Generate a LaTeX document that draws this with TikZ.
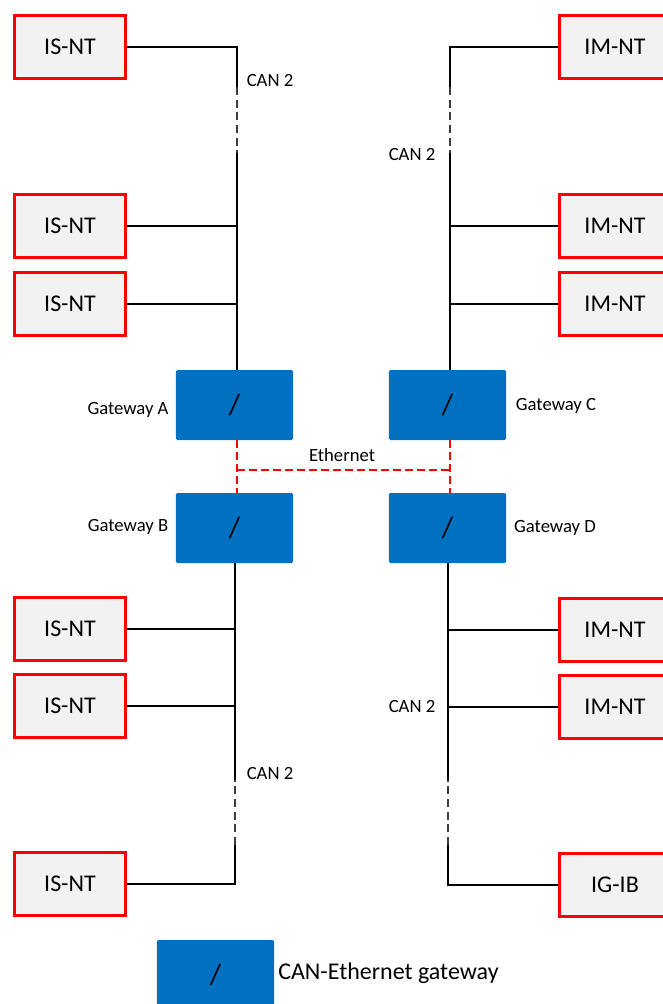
\documentclass[tikz,border=0pt]{standalone}
\usepackage{fontspec}
\setmainfont{Carlito}
\usepackage{tikz}
\definecolor{gwblue}{RGB}{0,112,192}
\definecolor{boxgray}{RGB}{242,242,242}
\definecolor{dashgray}{RGB}{60,60,60}

\begin{document}
\begin{tikzpicture}[x=0.75pt,y=-0.75pt,
  device/.style={draw=red,line width=2.2pt,fill=boxgray,minimum width=83pt,minimum height=47pt,font=\fontsize{18}{20}\selectfont},
  gateway/.style={fill=gwblue,rounded corners=1.2pt,minimum width=88pt,minimum height=52.5pt,font=\fontsize{22}{24}\selectfont},
  lbl/.style={font=\fontsize{14}{16}\selectfont},
  bus/.style={line width=1.5pt},
  gapline/.style={line width=1.1pt,dashgray,dash pattern=on 6pt off 3.5pt},
  eth/.style={red,line width=0.8pt,dash pattern=on 6pt off 3pt}]
\useasboundingbox (0,0) rectangle (663,1004);

% devices
\foreach \n/\y in {1/47,2/226,3/304,4/629,5/706,6/884}
  \node[device] (is\n) at (70,\y) {IS-NT};
\foreach \n/\y in {1/47,2/226,3/304,4/630,5/707}
  \node[device] (im\n) at (615,\y) {IM-NT};
\node[device] (ig) at (615,885) {IG-IB};

% gateways
\node[gateway] (gA) at (234.5,405) {/};
\node[gateway] (gC) at (447.5,405) {/};
\node[gateway] (gB) at (234.5,528) {/};
\node[gateway] (gD) at (447.5,528) {/};

% bus points
\coordinate (tl) at (237,47);  \coordinate (tl1) at (237,87);  \coordinate (tl2) at (237,153);
\coordinate (tr) at (450,47);  \coordinate (tr1) at (450,87);  \coordinate (tr2) at (450,153);
\coordinate (bl) at (235,884); \coordinate (bl1) at (235,780); \coordinate (bl2) at (235,845);
\coordinate (br) at (448,885); \coordinate (br1) at (448,780); \coordinate (br2) at (448,845);

% CAN 2 lines
\draw[bus] (is1.east) -- (tl) -- (tl1);
\draw[gapline] (tl1) -- (tl2);
\draw[bus] (tl2) -- (gA.north -| tl);
\draw[bus] (im1.west) -- (tr) -- (tr1);
\draw[gapline] (tr1) -- (tr2);
\draw[bus] (tr2) -- (gC.north -| tr);
\draw[bus] (is6.east) -- (bl) -- (bl2);
\draw[gapline] (bl2) -- (bl1);
\draw[bus] (bl1) -- (gB.south -| bl);
\draw[bus] (ig.west) -- (br) -- (br2);
\draw[gapline] (br2) -- (br1);
\draw[bus] (br1) -- (gD.south -| br);
\foreach \n in {2,3}{
  \draw[bus] (is\n.east) -- (is\n.east -| tl);
  \draw[bus] (im\n.west) -- (im\n.west -| tr);
}
\foreach \n in {4,5}{
  \draw[bus] (is\n.east) -- (is\n.east -| bl);
  \draw[bus] (im\n.west) -- (im\n.west -| br);
}

% ethernet
\coordinate (el) at (237,470);
\coordinate (er) at (450,470);
\draw[eth] (gA.south -| el) -- (gB.north -| el);
\draw[eth] (gC.south -| er) -- (gD.north -| er);
\draw[eth] (el) -- (er);
\node[lbl] (ethlbl) at (342,455) {Ethernet};

\node[lbl] (can1) at (270,81) {CAN 2};
\node[lbl] (can2) at (412,155) {CAN 2};
\node[lbl] (can3) at (412,706) {CAN 2};
\node[lbl] (can4) at (270,773) {CAN 2};

\node[lbl] (labA) at (128,410) {Gateway A};
\node[lbl] (labB) at (128,527) {Gateway B};
\node[lbl] (labC) at (556,406) {Gateway C};
\node[lbl] (labD) at (555,528) {Gateway D};

% legend
\node[gateway] (leg) at (215.5,975) {/};
\node[anchor=west,inner sep=0pt,font=\fontsize{18}{20}\selectfont] (legtxt) at (278,973) {CAN-Ethernet gateway};
\end{tikzpicture}
\end{document}
